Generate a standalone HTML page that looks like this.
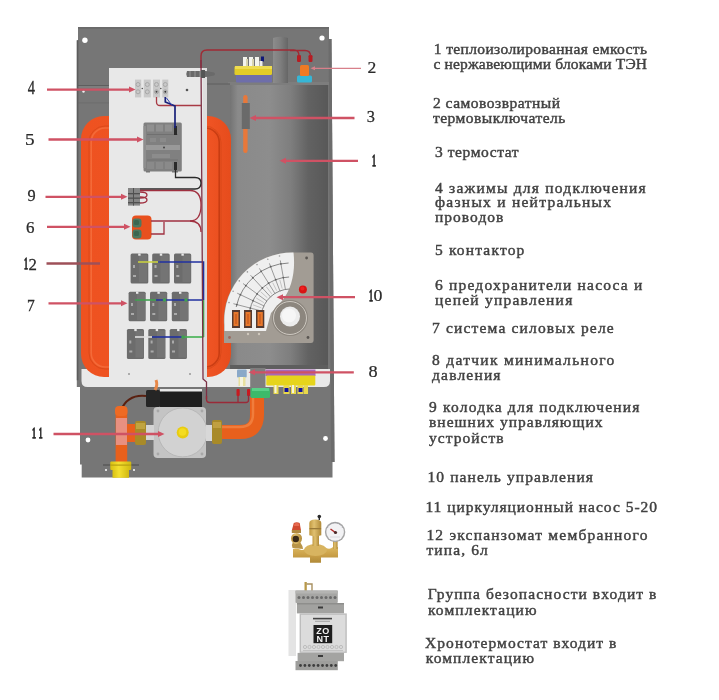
<!DOCTYPE html>
<html><head><meta charset="utf-8">
<style>
html,body{margin:0;padding:0;background:#fff;}
svg{display:block;filter:blur(0.4px);}
.t{font-family:"Liberation Serif",serif;font-size:15.5px;fill:#424242;stroke:#424242;stroke-width:0.45px;}
.n{font-family:"Liberation Serif",serif;font-size:18.5px;fill:#2a2a2a;stroke:#2a2a2a;stroke-width:0.25px;vector-effect:non-scaling-stroke;}
.n1{stroke-width:1.0px;}
</style></head><body>
<svg width="719" height="700" viewBox="0 0 719 700">
<defs>
<linearGradient id="cyl" x1="0" x2="1" y1="0" y2="0">
<stop offset="0" stop-color="#747474"/>
<stop offset="0.08" stop-color="#8a8a8a"/>
<stop offset="0.4" stop-color="#8d8d8d"/>
<stop offset="0.62" stop-color="#7e7e7e"/>
<stop offset="0.8" stop-color="#626262"/>
<stop offset="1" stop-color="#585858"/>
</linearGradient>
</defs>
<!-- back panel -->
<path d="M78,27 H329 V39 H331.5 L334.5,462 H332.5 V477.5 H81.7 V464.6 H80 V387 H76.8 V40.3 H78 Z" fill="#767676"/>
<path d="M328.5,39 H331.5 L334.5,462 H331 Z" fill="#6c6c6c"/>
<circle cx="84.9" cy="40.3" r="2.7" fill="#fff"/>
<rect x="78" y="27" width="251" height="1.8" fill="#6a6a6a"/>
<rect x="77" y="85" width="32" height="1" fill="#5e5e5e"/>
<rect x="77" y="86" width="32" height="2" fill="#7e7e7e"/>
<rect x="77" y="102.5" width="32" height="0.8" fill="#6a6a6a"/>
<circle cx="83.5" cy="91.5" r="1.2" fill="#f0f0f0"/>
<rect x="76.8" y="40.3" width="1.6" height="340" fill="#5c5c5c"/>
<circle cx="322" cy="38" r="2.6" fill="#fff"/>
<circle cx="88" cy="440" r="2.4" fill="#fff"/>
<circle cx="325.5" cy="438.5" r="2.4" fill="#fff"/>
<!-- shelf -->
<path d="M81.5,369 H330 V381 Q330,387 324,387 H87.5 Q81.5,387 81.5,381 Z" fill="#e9e9e9"/>
<!-- cylinder -->
<rect x="230" y="83" width="98" height="286" fill="url(#cyl)"/>
<rect x="228" y="82" width="101" height="3" fill="#7d7d7d"/>
<rect x="230" y="365" width="98" height="4" fill="#5e5e5e"/>
<rect x="207" y="84" width="23" height="40" fill="#777"/>
<path d="M207,84 H230" stroke="#5e5e5e" stroke-width="1"/>
<!-- flue pipe -->
<linearGradient id="flue" x1="0" x2="1"><stop offset="0" stop-color="#8c8c8c"/><stop offset="0.5" stop-color="#7e7e7e"/><stop offset="1" stop-color="#666"/></linearGradient>
<path d="M273,83 V38 Q280.5,35.5 288,38 V83 Z" fill="url(#flue)"/>
<!-- yellow/blue flange -->
<rect x="236" y="74.5" width="36" height="8" rx="1" fill="#6e6eaa"/>
<rect x="234.5" y="66" width="37.5" height="9" rx="1.5" fill="#e2cc28"/>
<rect x="235" y="66" width="37" height="3" fill="#eedc50"/>
<g fill="#f4f4ee"><rect x="243" y="57" width="4" height="9"/><rect x="249" y="57" width="4" height="9"/><rect x="255" y="57" width="4" height="9"/></g>
<g fill="#d8d4b0"><rect x="246" y="59" width="2" height="7"/><rect x="252" y="59" width="2" height="7"/></g>
<rect x="261" y="56.5" width="3" height="5" fill="#101878"/>
<rect x="259.5" y="61" width="3" height="5" fill="#eee"/>
<!-- thermal switch 2 -->
<rect x="297" y="75.5" width="15" height="7" rx="1.5" fill="#36b6d6"/>
<rect x="300" y="65" width="9" height="11" rx="1.5" fill="#f07a24"/>
<rect x="297" y="55" width="4" height="7" rx="1.3" fill="#b81c22"/>
<rect x="308.5" y="55" width="4" height="7" rx="1.3" fill="#b81c22"/>
<path d="M201,68 V56 Q201,50 207,50 H294 Q299,50 299,56 M290,50.5 H305 Q310.5,50.5 310.5,56" fill="none" stroke="#a02a34" stroke-width="1.4"/>
<!-- thermostat 3 -->
<rect x="243.2" y="95" width="4.4" height="58" rx="2.2" fill="#e8783a"/>
<rect x="241.8" y="103" width="8" height="26" fill="#6a6a6a"/>
<!-- orange expansion tank -->
<linearGradient id="tankf" x1="0" x2="1"><stop offset="0" stop-color="#ee5220"/><stop offset="0.85" stop-color="#ef5424"/><stop offset="1" stop-color="#e64c1c"/></linearGradient>
<rect x="81" y="116" width="150" height="261" rx="23" fill="url(#tankf)"/>
<linearGradient id="tankline" x1="0" x2="1"><stop offset="0" stop-color="#f46a38"/><stop offset="0.55" stop-color="#f06030"/><stop offset="0.75" stop-color="#d84418"/><stop offset="1" stop-color="#c83c12"/></linearGradient>
<rect x="89" y="126" width="132" height="243" rx="16" fill="none" stroke="#d44616" stroke-width="0.9" opacity="0.8"/>
<rect x="91.2" y="128" width="128" height="239" rx="14" fill="none" stroke="url(#tankline)" stroke-width="1.6"/>

<!-- board -->
<rect x="109" y="68" width="98" height="312" fill="#e8e8e8"/>
<rect x="203" y="68" width="4" height="312" fill="#dedede"/>
<circle cx="187" cy="90" r="1.3" fill="#555"/>
<circle cx="129" cy="374" r="1" fill="#999"/>
<circle cx="190" cy="374" r="1" fill="#999"/>
<!-- terminal block 4 -->
<g fill="#c9c9c9">
<rect x="135" y="79.6" width="6.2" height="17.8"/>
<rect x="143.8" y="79.6" width="7" height="17.8"/>
<rect x="153" y="79.6" width="7" height="17.8"/>
<rect x="162.3" y="79.6" width="6" height="17.8"/>
</g>
<g fill="none" stroke="#a8a8a8" stroke-width="1">
<circle cx="138" cy="84.5" r="2"/><circle cx="138" cy="91.8" r="2"/>
<circle cx="147.3" cy="84.5" r="2"/><circle cx="147.3" cy="91.8" r="2"/>
<circle cx="156.5" cy="84.5" r="2"/><circle cx="156.5" cy="91.8" r="2"/>
<circle cx="165.3" cy="84.5" r="2"/><circle cx="165.3" cy="91.8" r="2"/>
</g>
<circle cx="156.5" cy="91.8" r="1" fill="#444"/>
<circle cx="165.3" cy="91.8" r="1" fill="#333"/>
<circle cx="142.3" cy="88.5" r="0.8" fill="#555"/>
<circle cx="160.8" cy="88.5" r="0.8" fill="#555"/>
<!-- contactor 5 -->
<rect x="143.5" y="122.5" width="38.3" height="49" rx="1.5" fill="#808080"/>
<rect x="143.5" y="126" width="2.5" height="42" fill="#8e8e8e"/>
<g fill="#909090"><rect x="147" y="124.5" width="7" height="7"/><rect x="156" y="124.5" width="7" height="7"/><rect x="165" y="124.5" width="7" height="7"/></g>
<g fill="#8a8a8a"><rect x="147" y="162" width="7" height="7"/><rect x="156" y="162" width="7" height="7"/><rect x="165" y="162" width="7" height="7"/></g>
<rect x="147" y="134" width="31" height="1" fill="#707070"/>
<rect x="146" y="145" width="34" height="5" fill="#999"/>
<rect x="152" y="154" width="18" height="4" fill="#8c8c8c"/>
<rect x="147" y="159.5" width="31" height="1" fill="#707070"/>
<rect x="150" y="138" width="6" height="4" fill="#8a8a8a"/><rect x="160" y="138" width="6" height="4" fill="#8a8a8a"/>
<rect x="146" y="171" width="4" height="1.5" fill="#777"/><rect x="172" y="171" width="6" height="1.5" fill="#777"/>
<rect x="174" y="126" width="3" height="9" fill="#2a2a2a"/>
<rect x="174" y="162" width="3" height="8" fill="#2a2a2a"/>
<circle cx="164" cy="147.5" r="1" fill="#444"/>
<!-- terminal 9 -->
<rect x="128" y="188" width="12" height="17.6" fill="#858585"/>
<g fill="#505050"><rect x="128" y="193" width="12" height="1.3"/><rect x="128" y="197.5" width="12" height="1.3"/><rect x="128" y="202" width="12" height="1.3"/><rect x="133" y="188" width="1" height="17.6"/></g>
<!-- fuses 6 -->
<rect x="132" y="215.6" width="19.5" height="23.8" rx="4" fill="#e8501e"/>
<rect x="132.5" y="218.5" width="9" height="9" rx="3" fill="#4c7860"/>
<rect x="132.5" y="229.5" width="9" height="9" rx="3" fill="#4c7860"/>
<rect x="134" y="220" width="5" height="5" rx="1.5" fill="#3a6650"/>
<rect x="134" y="231" width="5" height="5" rx="1.5" fill="#3a6650"/>
<!-- relays -->
<g fill="#6c6c6c">
<rect x="130.6" y="253.6" width="17.7" height="30" rx="1.5"/>
<rect x="152.2" y="253.6" width="17.5" height="30" rx="1.5"/>
<rect x="174" y="253.6" width="17.2" height="30" rx="1.5"/>
<rect x="128.6" y="291.7" width="17.1" height="29.6" rx="1.5"/>
<rect x="150" y="291.7" width="17.2" height="29.6" rx="1.5"/>
<rect x="171.8" y="291.7" width="16.8" height="29.6" rx="1.5"/>
<rect x="126.9" y="329" width="17.1" height="30" rx="1.5"/>
<rect x="148.3" y="329" width="17.2" height="30" rx="1.5"/>
<rect x="169.7" y="329" width="17.2" height="30" rx="1.5"/>
</g>
<g fill="#747474">
<rect x="139" y="255" width="8" height="27"/>
<rect x="160.5" y="255" width="8" height="27"/>
<rect x="182.5" y="255" width="8" height="27"/>
<rect x="137" y="293" width="8" height="27"/>
<rect x="158.5" y="293" width="8" height="27"/>
<rect x="180" y="293" width="8" height="27"/>
<rect x="135.5" y="330.5" width="8" height="27"/>
<rect x="157" y="330.5" width="8" height="27"/>
<rect x="178.5" y="330.5" width="8" height="27"/>
</g>
<g fill="#aaa">
<rect x="133" y="265" width="2" height="3"/><rect x="154.5" y="265" width="2" height="3"/><rect x="176.3" y="265" width="2" height="3"/>
<rect x="131" y="303" width="2" height="3"/><rect x="152.3" y="303" width="2" height="3"/><rect x="174" y="303" width="2" height="3"/>
<rect x="129.3" y="340.5" width="2" height="3"/><rect x="150.6" y="340.5" width="2" height="3"/><rect x="172" y="340.5" width="2" height="3"/>
<rect x="133" y="275" width="3" height="2"/><rect x="154.5" y="275" width="3" height="2"/><rect x="176.3" y="275" width="3" height="2"/>
<rect x="131" y="313" width="3" height="2"/><rect x="152.3" y="313" width="3" height="2"/><rect x="174" y="313" width="3" height="2"/>
<rect x="129.3" y="350.5" width="3" height="2"/><rect x="150.6" y="350.5" width="3" height="2"/><rect x="172" y="350.5" width="3" height="2"/>
</g>
<g><rect x="138.2" y="253.5" width="2.4" height="2.2" fill="#e8e8e8"/><rect x="159.8" y="253.5" width="2.4" height="2.2" fill="#e8e8e8"/><rect x="181.4" y="253.5" width="2.4" height="2.2" fill="#e8e8e8"/><rect x="136.0" y="291.6" width="2.4" height="2.2" fill="#e8e8e8"/><rect x="157.4" y="291.6" width="2.4" height="2.2" fill="#e8e8e8"/><rect x="179.0" y="291.6" width="2.4" height="2.2" fill="#e8e8e8"/><rect x="134.3" y="328.9" width="2.4" height="2.2" fill="#e8e8e8"/><rect x="155.7" y="328.9" width="2.4" height="2.2" fill="#e8e8e8"/><rect x="177.1" y="328.9" width="2.4" height="2.2" fill="#e8e8e8"/></g>
<!-- relay wires -->
<g fill="none" stroke-width="1.6">
<path d="M138,262 H160" stroke="#c8d040"/>
<path d="M158,262 H203.5 V300" stroke="#2030a0"/>
<path d="M135,300 H156" stroke="#40a050"/>
<path d="M156,300 H203.5" stroke="#2030a0"/>
<path d="M203.5,300 V337" stroke="#40b050"/>
<path d="M135,337 H152" stroke="#e0e0e0"/>
<path d="M152,337 H184" stroke="#2030a0"/>
<path d="M184,337 H203.5" stroke="#40b050"/>
</g>
<g fill="#40a050"><circle cx="164.5" cy="300" r="1.8"/><circle cx="186" cy="300" r="1.8"/><circle cx="183" cy="337" r="1.8"/></g>
<!-- board wires -->
<g fill="none" stroke-width="1.3">
<path d="M201,60 L203,379 L206.5,382 V399" stroke="#7a3045"/>
<path d="M156.5,97 V102 Q156.5,105.5 160,105.5 H201" stroke="#a83a44"/>
<path d="M165.3,97 V102 L175,106 V128" stroke="#18207a" stroke-width="1.7"/>
<path d="M166.5,98 L172,105.5" stroke="#3040b0" stroke-width="1"/>
<path d="M175.5,165 V177.5 H195 Q201,177.5 201,183 Q201,189 195,189 H140" stroke="#2a2a2a"/>
<path d="M140,190.5 H190 Q201,190.5 201,205 Q201,221 190,221 H151" stroke="#a03040"/>
<path d="M190,221 Q201,221 201,232" stroke="#a03040"/>
<path d="M140,192 Q147,192 147,195 Q147,198 140,198" stroke="#a03040"/>
<path d="M140,197 Q147,197 147,200 Q147,203 140,203" stroke="#a03040"/>
<path d="M151,234 H164 V222" stroke="#a03040"/>
</g>
<!-- board connector -->
<path d="M187,71 H206 L214,72.5 Q216,74 214,75.5 L206,77 H187 Q185.5,74 187,71 Z" fill="#6a6a6a"/>
<g fill="#808080"><rect x="189" y="71" width="2" height="6"/><rect x="194" y="71" width="2" height="6"/><rect x="199" y="71" width="2" height="6"/></g>
<rect x="201" y="70" width="4" height="8" fill="#555"/>
<!-- control panel 10 -->
<path d="M224,343 V325 A68,68 0 0 1 293,252.5 H311 Q313.6,252.5 313.6,255.5 V340 Q313.6,343 311,343 Z" fill="#a29c94"/>
<path d="M224.5,331 V325 A68,68 0 0 1 293.5,252.5 C295.5,270 292.5,289 281,302 L271,313 L266,331 Z" fill="#efefef"/>
<g fill="none" stroke="#707070" stroke-width="0.85">
<path d="M236.2,307.0 A55.5,55.5 0 0 1 288.6,263.0"/>
<path d="M249.6,311.3 A41.5,41.5 0 0 1 289.1,277.0"/>
<path d="M261.3,314.4 A29.5,29.5 0 0 1 289.5,289.0"/>
<path d="M262.4,311.2 L233.4,303.7 M264.3,306.1 L237.2,293.2 M267.1,301.3 L243.0,283.5 M270.8,297.2 L250.5,275.2 M275.2,293.9 L259.4,268.4 M280.1,291.4 L269.4,263.4 M285.5,289.9 L280.3,260.4" stroke="#7e7e7e" stroke-width="0.75"/>
<path d="M261.4,307.9 L252.9,304.8 M263.9,302.6 L256.2,298.0 M267.4,297.8 L260.7,291.8 M271.7,293.8 L266.3,286.7 M276.7,290.7 L272.7,282.7 M282.2,288.6 L279.8,279.9" stroke-width="0.5" stroke="#9a9a9a"/>
</g>
<g fill="#606060"><circle cx="236.8" cy="304.6" r="0.9"/><circle cx="250.3" cy="308.1" r="0.9"/><circle cx="240.4" cy="294.7" r="0.9"/><circle cx="253.0" cy="300.7" r="0.9"/><circle cx="245.8" cy="285.6" r="0.9"/><circle cx="257.1" cy="293.9" r="0.9"/><circle cx="252.8" cy="277.7" r="0.9"/><circle cx="262.3" cy="288.0" r="0.9"/><circle cx="261.2" cy="271.3" r="0.9"/><circle cx="268.6" cy="283.2" r="0.9"/><circle cx="270.7" cy="266.7" r="0.9"/><circle cx="275.7" cy="279.7" r="0.9"/><circle cx="280.9" cy="263.8" r="0.9"/><circle cx="283.3" cy="277.6" r="0.9"/></g>
<g fill="#9a9a9a">
<circle cx="229.0" cy="302.6" r="0.8"/><circle cx="233.1" cy="291.2" r="0.8"/><circle cx="239.3" cy="280.9" r="0.8"/><circle cx="247.4" cy="271.9" r="0.8"/><circle cx="257.0" cy="264.6" r="0.8"/><circle cx="267.8" cy="259.2" r="0.8"/><circle cx="279.5" cy="256.0" r="0.8"/>
</g>
<circle cx="302.9" cy="289.4" r="4" fill="#d81414"/>
<circle cx="302.4" cy="288.6" r="2" fill="#f02020"/>
<circle cx="290" cy="318" r="18" fill="#8c867e"/>
<circle cx="290" cy="318" r="16.5" fill="none" stroke="#ddd8d0" stroke-width="0.8"/>
<circle cx="290" cy="316.5" r="10" fill="#ececec"/>
<circle cx="289" cy="315.5" r="7" fill="#f6f6f6"/>
<g fill="#563a30"><rect x="232" y="310" width="8" height="18"/><rect x="244" y="310" width="8" height="18"/><rect x="256" y="310" width="8.3" height="18"/></g>
<g fill="#e8782c"><rect x="233.5" y="312" width="5" height="14"/><rect x="245.5" y="312" width="5" height="14"/><rect x="257.5" y="312" width="5.3" height="14"/></g>
<g fill="#c85a20"><rect x="235.3" y="314" width="1.4" height="10"/><rect x="247.3" y="314" width="1.4" height="10"/><rect x="259.3" y="314" width="1.4" height="10"/></g>
<g fill="#cfc8bd"><circle cx="248" cy="334" r="1.2"/><circle cx="259" cy="334" r="1.2"/></g>
<g fill="#5a5652"><circle cx="306.6" cy="258" r="1.4"/><circle cx="308" cy="337.5" r="1.4"/></g>
<circle cx="229.5" cy="337.5" r="1.4" fill="#9a6a60"/>
<!-- bottom: under cylinder -->
<rect x="265.5" y="369.5" width="50" height="6.5" fill="#a868b8"/>
<rect x="266.3" y="375.6" width="49" height="10" rx="1" fill="#e6d41c"/>
<g fill="#e8d84a"><rect x="273.5" y="385" width="5" height="9"/><rect x="283.5" y="385" width="6" height="9"/><rect x="291" y="385" width="5" height="9"/><rect x="297.5" y="385" width="6" height="9"/><rect x="304" y="385" width="4" height="9"/></g>
<g fill="#f4f2e0"><rect x="274.5" y="385" width="2" height="8"/><rect x="292" y="385" width="2" height="8"/></g>
<g fill="#1010a0"><rect x="284.5" y="388" width="4" height="4"/><rect x="298.5" y="388" width="4" height="4"/></g>
<!-- pressure sensor 8 -->
<rect x="237" y="369.5" width="9.7" height="8" rx="1" fill="#8aa8c8"/>
<rect x="238.5" y="377" width="7" height="9" fill="#e8e0a0"/>
<rect x="240" y="377" width="3" height="9" fill="#f6f4e0"/>
<rect x="250.2" y="368" width="15.3" height="22" fill="#7e7e7e"/>
<rect x="236.5" y="389" width="3.2" height="7" rx="1" fill="#c81a20"/>
<rect x="247" y="389" width="3.2" height="7" rx="1" fill="#c81a20"/>
<path d="M206.5,396 V399.5 Q206.5,402.5 209.5,402.5 H246 Q248.5,402.5 248.5,400 V395 M238,396 V402.5" fill="none" stroke="#9a2a38" stroke-width="1.3"/>
<!-- green fitting + elbow pipe -->
<path d="M257,397 V415 Q257,432 240,432 H220" fill="none" stroke="#e8601c" stroke-width="14"/>
<path d="M253,398 V414 Q253,427 240,427 H222" fill="none" stroke="#f48a4a" stroke-width="2.5" opacity="0.7"/>
<rect x="250.6" y="388" width="19.4" height="10" rx="1.5" fill="#3cba6a"/>
<rect x="252" y="388" width="17" height="3" fill="#5ad088"/>
<!-- pump -->
<rect x="146" y="390" width="14" height="17" rx="1.5" fill="#252525"/>
<rect x="160" y="390" width="42" height="17" fill="#1e1e1e"/>
<rect x="160" y="389" width="42" height="2.5" fill="#e8e8e8"/>
<path d="M156,380 Q158,385 155,390" fill="none" stroke="#e88848" stroke-width="3"/>
<path d="M146,396 Q128,394 121,410" fill="none" stroke="#5a2010" stroke-width="2"/>
<rect x="153.5" y="407" width="52.5" height="51" rx="4" fill="#c4c4c4"/>
<circle cx="182.7" cy="432.4" r="24.5" fill="#d2d2d2" stroke="#b8b8b8" stroke-width="1"/>
<g fill="#a8a8a8"><circle cx="158" cy="411" r="1.4"/><circle cx="202" cy="411" r="1.4"/><circle cx="158" cy="454" r="1.4"/><circle cx="202" cy="454" r="1.4"/></g>
<circle cx="182.7" cy="432.4" r="6" fill="#e8cc10"/>
<circle cx="182.5" cy="432" r="3.8" fill="#f4dc20"/>
<!-- right brass nut + pipe -->
<rect x="206" y="425" width="6" height="16" fill="#d8d8d8"/>
<rect x="212" y="420" width="10" height="24" rx="2" fill="#a88a28"/>
<rect x="213" y="422" width="8" height="6" fill="#c0a040"/>
<!-- left pipe assembly -->
<rect x="127" y="424" width="14" height="18" fill="#e8601c"/>
<rect x="135" y="421" width="11" height="24" rx="2" fill="#a88a28"/>
<rect x="136" y="423" width="9" height="6" fill="#c0a440"/>
<rect x="146" y="425" width="8" height="15" fill="#d4d4d4"/>
<rect x="115.6" y="410" width="11.6" height="54" fill="#e8601c"/>
<rect x="116" y="418" width="11" height="27" fill="#e89080"/>
<rect x="115" y="406" width="12.5" height="10" rx="4" fill="#ee6a24"/>
<rect x="103" y="464.5" width="36" height="1" fill="#4a4a4a"/>
<circle cx="106" cy="470" r="1" fill="#fff"/><circle cx="134" cy="470" r="1" fill="#fff"/>
<linearGradient id="yfit" x1="0" x2="1"><stop offset="0" stop-color="#d8c010"/><stop offset="0.4" stop-color="#f4e030"/><stop offset="1" stop-color="#d0b810"/></linearGradient>
<rect x="110.3" y="461.6" width="20.9" height="8.5" rx="1" fill="url(#yfit)"/>
<rect x="110.3" y="464.5" width="20.9" height="1.2" fill="#b8a010"/>
<rect x="112.5" y="470" width="16.5" height="7.8" fill="url(#yfit)"/>
<!-- safety group -->
<linearGradient id="brass" x1="0" x2="0" y1="0" y2="1"><stop offset="0" stop-color="#dcb860"/><stop offset="0.5" stop-color="#caa048"/><stop offset="1" stop-color="#b08a38"/></linearGradient>
<linearGradient id="brassh" x1="0" x2="1"><stop offset="0" stop-color="#c09840"/><stop offset="0.4" stop-color="#e0c070"/><stop offset="1" stop-color="#b08a38"/></linearGradient>
<g>
<path d="M292.5,548 Q291,545 293,542 L300,542 Q303,546 303,549 Z" fill="#b89448"/>
<path d="M293,557.4 V549 Q296,548 300,549.5 Q304,551 306,548 L326,548 Q330,550 333,547 L338,547 V557.4 H321 V562.8 H310 V557.4 Z" fill="url(#brass)"/>
<ellipse cx="315.5" cy="550" rx="11.5" ry="6" fill="#d8b460"/>
<rect x="312.5" y="534" width="6.5" height="12" fill="url(#brassh)"/>
<path d="M309.3,535.3 V523 Q309.3,519.5 315.3,519.5 Q321.3,519.5 321.3,523 V535.3 Q315.3,537.5 309.3,535.3 Z" fill="url(#brassh)"/>
<rect x="309.5" y="528" width="11.6" height="1.3" fill="#9a7a38"/>
<circle cx="319.3" cy="516.5" r="1.8" fill="#2a2a2a"/>
<rect x="318.6" y="517" width="1.4" height="3" fill="#2a2a2a"/>
<circle cx="296.5" cy="538.5" r="5.5" fill="url(#brassh)"/>
<circle cx="295.8" cy="539" r="3.2" fill="#3a2a18"/>
<path d="M293.8,523 Q296.8,521.5 299.7,523 L301,530.5 H291.8 Z" fill="#d04a30"/>
<path d="M294.5,523.5 Q296.8,522.3 298.8,523.5 L299.3,526 H294 Z" fill="#e86a50"/>
<rect x="291.8" y="530" width="9.2" height="3" fill="#b08a40"/>
<rect x="333" y="540" width="4.6" height="9" fill="url(#brassh)"/>
<circle cx="335.1" cy="532" r="10.2" fill="#a6a6a6"/>
<circle cx="335.1" cy="532" r="8.8" fill="#f2f2f4"/>
<path d="M327.5,528 A8,8 0 0 1 342.5,528" fill="none" stroke="#8a8a9a" stroke-width="0.7" stroke-dasharray="0.8,1.2"/>
<path d="M336,533 L330.5,529" stroke="#b02828" stroke-width="1.5"/>
<circle cx="335.5" cy="532.5" r="1.6" fill="#4a2a2a"/>
<path d="M330,537 H340" stroke="#c8c8d0" stroke-width="0.6"/>
</g>
<!-- ZONT device -->
<g>
<rect x="304.5" y="582" width="2.3" height="9" fill="#b89848"/>
<path d="M306.5,584 H312 V591" fill="none" stroke="#a89060" stroke-width="1.4"/>
<rect x="288.5" y="590" width="7.5" height="66" fill="#e4e4e4"/>
<rect x="295.5" y="590.5" width="42.3" height="12.5" rx="1" fill="#a6a6a4"/>
<rect x="295.5" y="590.5" width="42.3" height="3" fill="#b4b4b2"/>
<g fill="#6a6a6a"><circle cx="299.0" cy="597.5" r="1.5"/><circle cx="303.5" cy="597.5" r="1.5"/><circle cx="308.0" cy="597.5" r="1.5"/><circle cx="312.5" cy="597.5" r="1.5"/><circle cx="317.0" cy="597.5" r="1.5"/><circle cx="321.5" cy="597.5" r="1.5"/><circle cx="326.0" cy="597.5" r="1.5"/><circle cx="330.5" cy="597.5" r="1.5"/><circle cx="335.0" cy="597.5" r="1.5"/></g>
<rect x="296.9" y="603" width="47.1" height="10.4" fill="#a2a2a0"/>
<rect x="296.9" y="603" width="47.1" height="1.5" fill="#8e8e8c"/>
<rect x="318" y="606.5" width="5" height="2" fill="#3a3a3a"/>
<rect x="299.6" y="613.4" width="47.2" height="39.5" fill="#bdbdbd"/>
<rect x="301" y="614.8" width="44.4" height="36.8" fill="#dcdcdc"/>
<rect x="313" y="617.8" width="19" height="1.6" fill="#444"/>
<rect x="315" y="620.8" width="15" height="0.9" fill="#999"/>
<rect x="313.5" y="625" width="18.7" height="18.2" fill="#1e1e1e"/>
<text x="322.9" y="633.6" font-family="Liberation Sans, sans-serif" font-weight="bold" font-size="9" fill="#f4f4f4" text-anchor="middle" letter-spacing="0.3">ZO</text>
<text x="322.9" y="642.4" font-family="Liberation Sans, sans-serif" font-weight="bold" font-size="9" fill="#f4f4f4" text-anchor="middle" letter-spacing="0.3">NT</text>
<g fill="none" stroke="#b0b0b0" stroke-width="0.7"><circle cx="305.0" cy="647" r="1.6"/><circle cx="309.5" cy="647" r="1.6"/><circle cx="314.0" cy="647" r="1.6"/><circle cx="318.5" cy="647" r="1.6"/><circle cx="323.0" cy="647" r="1.6"/><circle cx="327.5" cy="647" r="1.6"/><circle cx="332.0" cy="647" r="1.6"/><circle cx="336.5" cy="647" r="1.6"/><circle cx="341.0" cy="647" r="1.6"/></g>
<rect x="303" y="650" width="40" height="0.8" fill="#bcbcbc"/>
<rect x="297.6" y="652.9" width="46.4" height="8.3" fill="#a4a4a2"/>
<rect x="318" y="655" width="5" height="2" fill="#3a3a3a"/>
<rect x="295.5" y="661" width="42.3" height="9.2" fill="#9e9e9c"/>
<g fill="#3e3e3e"><circle cx="300.5" cy="665.5" r="1.4"/><circle cx="304.9" cy="665.5" r="1.4"/><circle cx="309.3" cy="665.5" r="1.4"/><circle cx="313.7" cy="665.5" r="1.4"/><circle cx="318.1" cy="665.5" r="1.4"/><circle cx="322.5" cy="665.5" r="1.4"/><circle cx="326.9" cy="665.5" r="1.4"/><circle cx="331.3" cy="665.5" r="1.4"/><circle cx="335.7" cy="665.5" r="1.4"/></g>
</g>
<!--ARROWS-->

<!-- arrows -->
<g stroke="#cf5264" stroke-width="2.3" fill="none">
<path d="M47,89.6 H130"/>
<path d="M48.5,139.5 H138"/>
<path d="M45.5,196.8 H122"/>
<path d="M47,226.8 H125"/>
<path d="M46.5,263.5 H100" stroke="#9e5058"/>
<path d="M48.5,303.3 H122"/>
<path d="M53.5,434 H159"/>
<path d="M361,68.3 H314" stroke-width="1.3" stroke="#d8808a"/>
<path d="M354.5,118 H255"/>
<path d="M358,160.8 H285"/>
<path d="M355,297.2 H282"/>
<path d="M353.8,372.3 H254"/>
</g>
<g fill="#cf5264">
<path d="M129,86.6 L135.5,89.6 L129,92.6 Z"/>
<path d="M137,136.5 L143.5,139.5 L137,142.5 Z"/>
<path d="M121,193.8 L127.5,196.8 L121,199.8 Z"/>
<path d="M124,223.8 L130.5,226.8 L124,229.8 Z"/>
<path d="M121,300.3 L127.5,303.3 L121,306.3 Z"/>
<path d="M158,431 L164.5,434 L158,437 Z"/>
<path d="M315,66.3 L310.5,68.3 L315,70.3 Z" fill="#d8808a"/>
<path d="M256,115 L249.5,118 L256,121 Z"/>
<path d="M286,157.8 L279.5,160.8 L286,163.8 Z"/>
<path d="M283,294.2 L276.5,297.2 L283,300.2 Z"/>
<path d="M255,369.3 L248.5,372.3 L255,375.3 Z"/>
</g>

<!--TEXT-->
<text class="t" x="433.8" y="53.6" textLength="213.2" lengthAdjust="spacing">1 теплоизолированная емкость</text>
<text class="t" x="433.4" y="69" textLength="213.6" lengthAdjust="spacing">с нержавеющими блоками ТЭН</text>
<text class="t" x="433" y="108" textLength="127" lengthAdjust="spacing">2 самовозвратный</text>
<text class="t" x="433" y="123" textLength="132.3" lengthAdjust="spacing">термовыключатель</text>
<text class="t" x="435" y="157.3" textLength="83.6" lengthAdjust="spacing">3 термостат</text>
<text class="t" x="435" y="192.7" textLength="210.7" lengthAdjust="spacing">4 зажимы для подключения</text>
<text class="t" x="435" y="207" textLength="176" lengthAdjust="spacing">фазных и нейтральных</text>
<text class="t" x="435" y="221.5" textLength="68.4" lengthAdjust="spacing">проводов</text>
<text class="t" x="435" y="254.5" textLength="89.3" lengthAdjust="spacing">5 контактор</text>
<text class="t" x="435" y="290" textLength="207.3" lengthAdjust="spacing">6 предохранители насоса и</text>
<text class="t" x="435" y="305" textLength="137.3" lengthAdjust="spacing">цепей управления</text>
<text class="t" x="432" y="333" textLength="181.7" lengthAdjust="spacing">7 система силовых реле</text>
<text class="t" x="432" y="365" textLength="182.2" lengthAdjust="spacing">8 датчик минимального</text>
<text class="t" x="432" y="380" textLength="68.5" lengthAdjust="spacing">давления</text>
<text class="t" x="429" y="412" textLength="210.4" lengthAdjust="spacing">9 колодка для подключения</text>
<text class="t" x="429" y="427" textLength="173.5" lengthAdjust="spacing">внешних управляющих</text>
<text class="t" x="429" y="443" textLength="74.6" lengthAdjust="spacing">устройств</text>
<text class="t" x="427.5" y="482.4" textLength="165.5" lengthAdjust="spacing">10 панель управления</text>
<text class="t" x="425.4" y="511.6" textLength="231.6" lengthAdjust="spacing">11 циркуляционный насос 5-20</text>
<text class="t" x="426.4" y="539.8" textLength="221.1" lengthAdjust="spacing">12 экспанзомат мембранного</text>
<text class="t" x="426.4" y="555.3" textLength="61.4" lengthAdjust="spacing">типа, 6л</text>
<text class="t" x="427.7" y="599.4" textLength="228.7" lengthAdjust="spacing">Группа безопасности входит в</text>
<text class="t" x="428" y="615.2" textLength="108.6" lengthAdjust="spacing">комплектацию</text>
<text class="t" x="425.1" y="648" textLength="191.3" lengthAdjust="spacing">Хронотермостат входит в</text>
<text class="t" x="425.8" y="663.1" textLength="108.2" lengthAdjust="spacing">комплектацию</text>

<!-- number labels -->
<text class="n" transform="matrix(0.785,0,0,0.965,27.64,94.38)">4</text>
<text class="n" transform="matrix(1.040,0,0,0.956,25.01,145.20)">5</text>
<text class="n" transform="matrix(0.880,0,0,0.905,27.40,200.71)">9</text>
<text class="n" transform="matrix(0.917,0,0,0.905,25.90,233.21)">6</text>
<text class="n n1" transform="matrix(0.430,0,0,0.884,24.00,269.30)">1</text>
<text class="n" transform="matrix(0.910,0,0,0.943,28.39,269.68)">2</text>
<text class="n" transform="matrix(0.834,0,0,0.929,27.11,310.88)">7</text>
<text class="n n1" transform="matrix(0.430,0,0,0.835,32.00,437.70)">1</text>
<text class="n n1" transform="matrix(0.415,0,0,0.835,38.73,437.70)">1</text>
<text class="n" transform="matrix(0.951,0,0,0.943,367.55,72.67)">2</text>
<text class="n" transform="matrix(0.883,0,0,0.897,366.84,121.91)">3</text>
<text class="n n1" transform="matrix(0.430,0,0,0.901,371.90,166.00)">1</text>
<text class="n n1" transform="matrix(0.430,0,0,0.901,369.10,300.50)">1</text>
<text class="n" transform="matrix(0.963,0,0,0.941,373.45,300.70)">0</text>
<text class="n" transform="matrix(0.988,0,0,0.917,368.43,376.91)">8</text>
</svg>
</body></html>
